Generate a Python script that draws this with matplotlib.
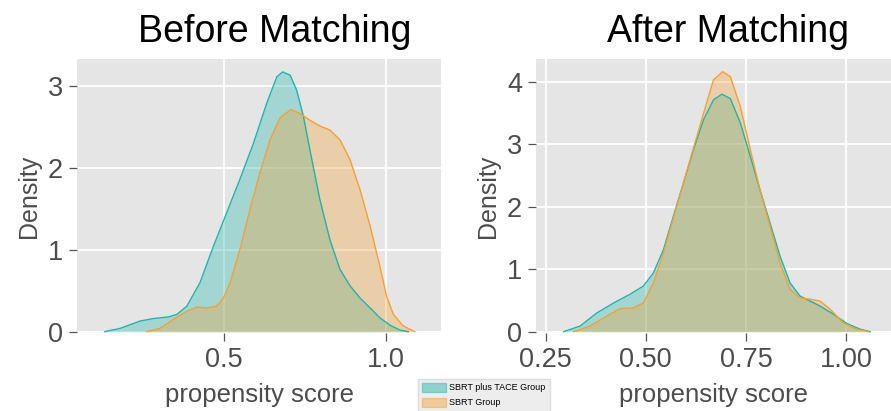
import numpy as np
import matplotlib.pyplot as plt
from matplotlib.patches import Patch

# density curves
before_tace_x = [0.132, 0.179, 0.241, 0.282, 0.328, 0.354, 0.385, 0.426, 0.467, 0.508,
                 0.549, 0.591, 0.632, 0.663, 0.681, 0.704, 0.724, 0.745, 0.765, 0.796,
                 0.827, 0.858, 0.889, 0.920, 0.951, 0.981, 1.012, 1.043, 1.069]
before_tace_y = [0.0, 0.04, 0.13, 0.16, 0.18, 0.21, 0.31, 0.60, 1.04, 1.45,
                 1.86, 2.30, 2.79, 3.11, 3.17, 3.13, 2.95, 2.63, 2.22, 1.61,
                 1.12, 0.76, 0.56, 0.41, 0.29, 0.17, 0.08, 0.02, 0.0]
before_sbrt_x = [0.261, 0.302, 0.344, 0.385, 0.416, 0.447, 0.477, 0.498, 0.519, 0.549,
                 0.580, 0.611, 0.642, 0.673, 0.707, 0.735, 0.765, 0.796, 0.827, 0.858,
                 0.889, 0.920, 0.951, 0.981, 1.002, 1.023, 1.053, 1.089]
before_sbrt_y = [0.0, 0.04, 0.15, 0.25, 0.30, 0.29, 0.31, 0.41, 0.60, 1.00,
                 1.49, 1.94, 2.34, 2.61, 2.71, 2.66, 2.58, 2.51, 2.46, 2.34,
                 2.10, 1.73, 1.29, 0.80, 0.43, 0.21, 0.07, 0.0]

after_tace_x = [0.295, 0.336, 0.378, 0.420, 0.461, 0.494, 0.519, 0.544, 0.569, 0.594,
                0.619, 0.644, 0.669, 0.690, 0.711, 0.736, 0.761, 0.785, 0.810, 0.835,
                0.860, 0.885, 0.910, 0.935, 0.968, 1.002, 1.035, 1.060]
after_tace_y = [0.0, 0.09, 0.30, 0.46, 0.60, 0.73, 0.94, 1.31, 1.85, 2.38,
                2.91, 3.39, 3.71, 3.80, 3.73, 3.34, 2.80, 2.27, 1.74, 1.21,
                0.78, 0.57, 0.49, 0.41, 0.28, 0.13, 0.04, 0.0]
after_sbrt_x = [0.320, 0.361, 0.403, 0.436, 0.469, 0.494, 0.519, 0.544, 0.569, 0.594,
                0.619, 0.644, 0.669, 0.692, 0.711, 0.736, 0.761, 0.785, 0.810, 0.835,
                0.860, 0.885, 0.910, 0.935, 0.960, 0.993, 1.026, 1.056]
after_sbrt_y = [0.0, 0.09, 0.25, 0.37, 0.38, 0.46, 0.78, 1.26, 1.82, 2.38,
                2.94, 3.49, 4.03, 4.16, 4.08, 3.60, 2.91, 2.27, 1.69, 1.10,
                0.68, 0.54, 0.52, 0.49, 0.36, 0.14, 0.04, 0.0]

group_names = ['SBRT plus TACE Group', 'SBRT Group']
titles = ['Before Matching', 'After Matching']
left_ticks = [0.5, 1.0]
left_ticklabels = ['0.5', '1.0']
right_ticks = [0.25, 0.50, 0.75, 1.00]
right_ticklabels = ['0.25', '0.50', '0.75', '1.00']

teal = '#1DB5AC'
orange = '#F5A030'
fill_alpha = 0.33

plt.rcParams['font.family'] = ['Liberation Sans', 'DejaVu Sans']

fig = plt.figure(figsize=(8.91, 4.11), dpi=100)
ax1 = fig.add_axes([0.0864, 0.190, 0.4086, 0.666])
ax2 = fig.add_axes([0.6016, 0.190, 0.3984, 0.666])

panels = [
    (ax1, before_tace_x, before_tace_y, before_sbrt_x, before_sbrt_y,
     (0.046, 1.17), (-0.015, 3.325), left_ticks, left_ticklabels, [0, 1, 2, 3]),
    (ax2, after_tace_x, after_tace_y, after_sbrt_x, after_sbrt_y,
     (0.226, 1.112), (-0.02, 4.36), right_ticks, right_ticklabels, [0, 1, 2, 3, 4]),
]

for ax, tx, ty, sx, sy, xlim, ylim, xt, xtl, yt in panels:
    ax.set_facecolor('#E5E5E5')
    ax.grid(True, color='white', linewidth=1.3)
    ax.set_axisbelow(True)
    ax.fill_between(tx, ty, color=teal, alpha=fill_alpha, linewidth=0)
    ax.plot(tx, ty, color=teal, linewidth=1.0)
    ax.fill_between(sx, sy, color=orange, alpha=fill_alpha, linewidth=0)
    ax.plot(sx, sy, color=orange, linewidth=1.0)
    ax.set_xlim(*xlim)
    ax.set_ylim(*ylim)
    ax.set_xticks(xt)
    ax.set_xticklabels(xtl)
    ax.set_yticks(yt)
    for sp in ax.spines.values():
        sp.set_visible(False)
    ax.tick_params(colors='#555555', labelcolor='#4D4D4D', labelsize=19.5,
                   length=6, width=0.9, pad=4)
    ax.set_xlabel('propensity score', fontsize=18.5, color='#4D4D4D', labelpad=7)
    ax.set_ylabel('Density', fontsize=18, color='#4D4D4D', labelpad=5)

fig.text(275 / 891, 1 - 32 / 411, titles[0], fontsize=27, ha='center', va='center')
fig.text(728 / 891, 1 - 32 / 411, titles[1], fontsize=27, ha='center', va='center')

handles = [Patch(facecolor=teal, alpha=0.45, edgecolor=teal),
           Patch(facecolor=orange, alpha=0.45, edgecolor=orange)]
leg = fig.legend(handles, group_names, loc='upper left',
                 bbox_to_anchor=(413 / 891, 1 - 374 / 411), fontsize=6.5,
                 frameon=True, facecolor='#EDEDED', edgecolor='#DDDDDD',
                 fancybox=False, handlelength=2.6, handleheight=1.1,
                 borderpad=0.5, labelspacing=0.6, handletextpad=0.4)
leg.get_frame().set_alpha(1)

fig.savefig('out.png', dpi=100)
